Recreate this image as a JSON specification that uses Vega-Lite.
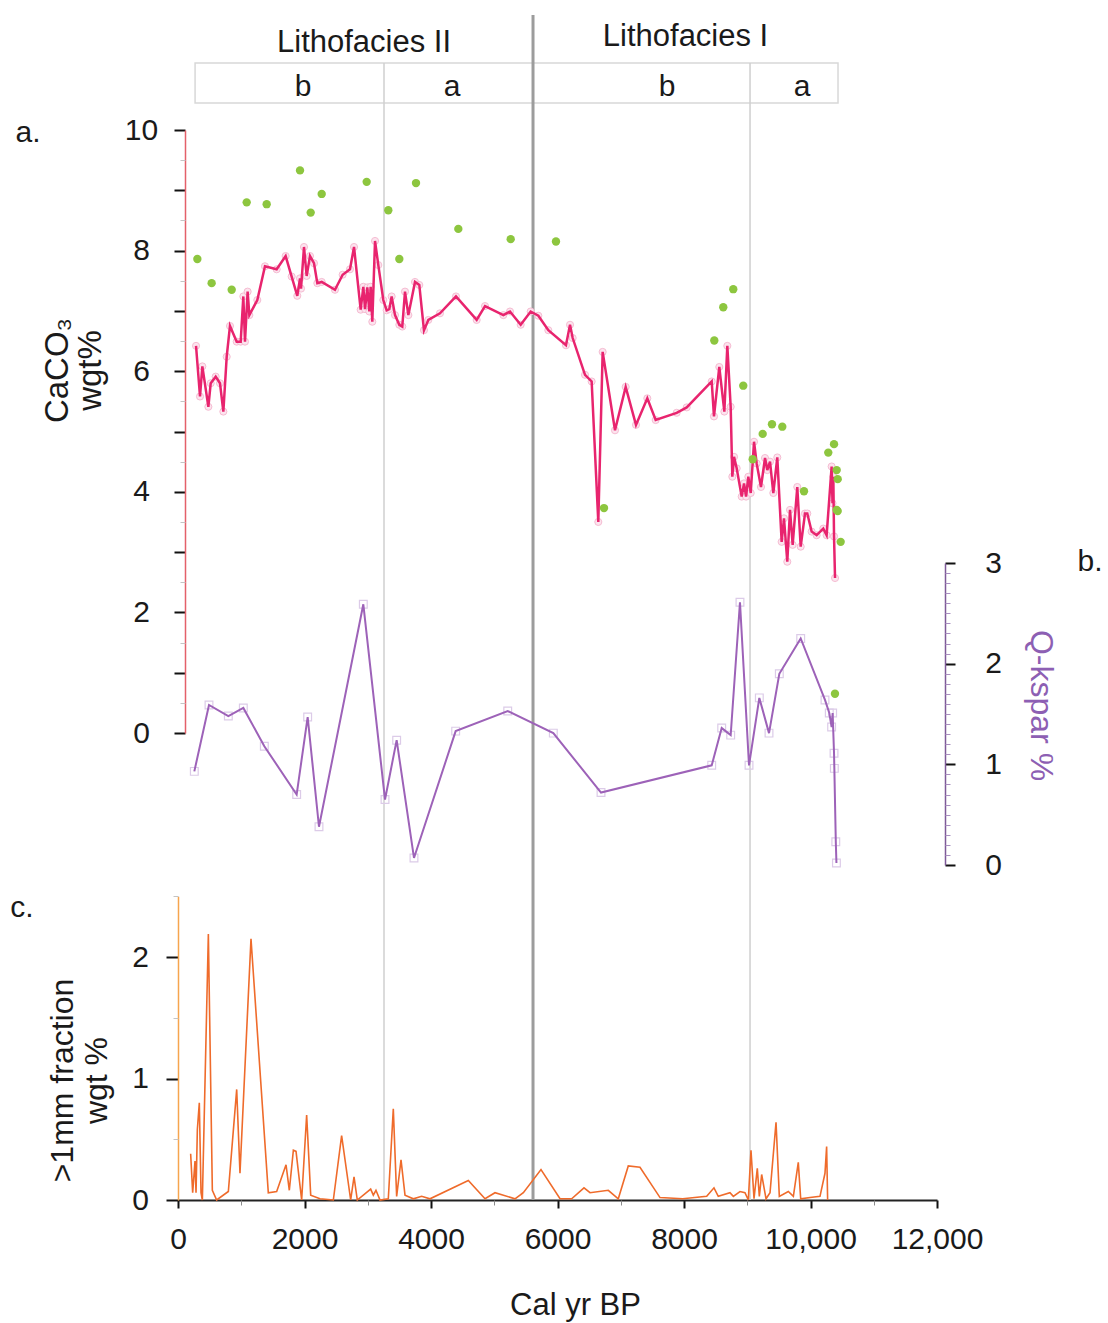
{
  "$schema": "https://vega.github.io/schema/vega-lite/v6.json",
  "width": 759,
  "height": 1185,
  "autosize": {"type": "none"},
  "padding": {"left": 178, "top": 15, "right": 171, "bottom": 123},
  "config": {
    "view": {"stroke": null},
    "font": "Liberation Sans",
    "axis": {"grid": false, "labelFont": "Liberation Sans", "titleFont": "Liberation Sans", "labelColor": "#1a1a1a", "titleColor": "#1a1a1a", "titleFontWeight": "normal", "labelOverlap": false, "labelFlush": false},
    "text": {"font": "Liberation Sans", "color": "#1a1a1a"}
  },
  "datasets": {
    "caco3": [
      {"yr":285,"pct":6.42},{"yr":348,"pct":5.58},{"yr":385,"pct":6.08},{"yr":480,"pct":5.41},{"yr":517,"pct":5.80},{"yr":596,"pct":5.91},{"yr":664,"pct":5.80},{"yr":717,"pct":5.33},{"yr":770,"pct":6.24},{"yr":822,"pct":6.75},{"yr":928,"pct":6.49},{"yr":991,"pct":6.49},{"yr":1033,"pct":7.24},{"yr":1059,"pct":6.49},{"yr":1101,"pct":7.32},{"yr":1128,"pct":6.93},{"yr":1254,"pct":7.18},{"yr":1375,"pct":7.74},{"yr":1560,"pct":7.69},{"yr":1702,"pct":7.91},{"yr":1797,"pct":7.57},{"yr":1886,"pct":7.25},{"yr":1929,"pct":7.54},{"yr":1945,"pct":7.37},{"yr":1992,"pct":8.06},{"yr":2034,"pct":7.58},{"yr":2087,"pct":7.91},{"yr":2150,"pct":7.79},{"yr":2203,"pct":7.46},{"yr":2272,"pct":7.48},{"yr":2482,"pct":7.35},{"yr":2603,"pct":7.60},{"yr":2719,"pct":7.69},{"yr":2783,"pct":8.06},{"yr":2888,"pct":7.02},{"yr":2930,"pct":7.40},{"yr":2957,"pct":7.03},{"yr":2993,"pct":7.39},{"yr":3025,"pct":6.99},{"yr":3046,"pct":7.40},{"yr":3072,"pct":6.82},{"yr":3115,"pct":8.16},{"yr":3167,"pct":7.76},{"yr":3246,"pct":7.18},{"yr":3299,"pct":7.01},{"yr":3341,"pct":7.03},{"yr":3378,"pct":7.24},{"yr":3431,"pct":6.93},{"yr":3499,"pct":6.77},{"yr":3546,"pct":6.74},{"yr":3589,"pct":7.32},{"yr":3642,"pct":6.93},{"yr":3747,"pct":7.48},{"yr":3815,"pct":7.43},{"yr":3889,"pct":6.68},{"yr":3958,"pct":6.85},{"yr":4142,"pct":6.96},{"yr":4395,"pct":7.24},{"yr":4722,"pct":6.85},{"yr":4854,"pct":7.08},{"yr":5144,"pct":6.93},{"yr":5249,"pct":6.99},{"yr":5418,"pct":6.77},{"yr":5576,"pct":6.99},{"yr":5697,"pct":6.92},{"yr":5855,"pct":6.68},{"yr":6134,"pct":6.43},{"yr":6198,"pct":6.77},{"yr":6240,"pct":6.55},{"yr":6435,"pct":5.94},{"yr":6540,"pct":5.83},{"yr":6645,"pct":3.50},{"yr":6714,"pct":6.32},{"yr":6909,"pct":5.02},{"yr":7078,"pct":5.74},{"yr":7241,"pct":5.11},{"yr":7420,"pct":5.55},{"yr":7552,"pct":5.19},{"yr":7884,"pct":5.31},{"yr":8043,"pct":5.40},{"yr":8438,"pct":5.83},{"yr":8474,"pct":5.25},{"yr":8558,"pct":6.07},{"yr":8638,"pct":5.33},{"yr":8685,"pct":6.42},{"yr":8738,"pct":5.41},{"yr":8764,"pct":4.25},{"yr":8791,"pct":4.58},{"yr":8833,"pct":4.39},{"yr":8912,"pct":3.92},{"yr":8949,"pct":4.14},{"yr":8981,"pct":3.92},{"yr":9017,"pct":4.25},{"yr":9055,"pct":3.98},{"yr":9107,"pct":4.83},{"yr":9149,"pct":4.47},{"yr":9217,"pct":4.08},{"yr":9281,"pct":4.56},{"yr":9317,"pct":4.36},{"yr":9360,"pct":4.50},{"yr":9412,"pct":3.98},{"yr":9475,"pct":4.57},{"yr":9544,"pct":3.17},{"yr":9581,"pct":3.56},{"yr":9633,"pct":2.84},{"yr":9676,"pct":3.70},{"yr":9718,"pct":3.12},{"yr":9791,"pct":4.08},{"yr":9845,"pct":3.09},{"yr":9913,"pct":3.64},{"yr":9949,"pct":3.64},{"yr":10018,"pct":3.34},{"yr":10097,"pct":3.28},{"yr":10202,"pct":3.39},{"yr":10255,"pct":3.28},{"yr":10334,"pct":4.42},{"yr":10348,"pct":3.81},{"yr":10361,"pct":4.25},{"yr":10372,"pct":3.26},{"yr":10388,"pct":2.57}
    ],
    "caco3_alt": [
      {"yr":306,"pct":7.86},{"yr":532,"pct":7.46},{"yr":849,"pct":7.35},{"yr":1086,"pct":8.80},{"yr":1402,"pct":8.77},{"yr":1929,"pct":9.33},{"yr":2098,"pct":8.63},{"yr":2272,"pct":8.94},{"yr":2983,"pct":9.14},{"yr":3325,"pct":8.67},{"yr":3499,"pct":7.86},{"yr":3763,"pct":9.12},{"yr":4432,"pct":8.36},{"yr":5260,"pct":8.19},{"yr":5976,"pct":8.15},{"yr":6735,"pct":3.73},{"yr":8479,"pct":6.51},{"yr":8621,"pct":7.06},{"yr":8779,"pct":7.36},{"yr":8937,"pct":5.76},{"yr":9086,"pct":4.54},{"yr":9244,"pct":4.96},{"yr":9391,"pct":5.12},{"yr":9554,"pct":5.08},{"yr":9897,"pct":4.01},{"yr":10281,"pct":4.65},{"yr":10372,"pct":4.79},{"yr":10414,"pct":4.36},{"yr":10430,"pct":4.21},{"yr":10414,"pct":3.70},{"yr":10430,"pct":3.68},{"yr":10477,"pct":3.17},{"yr":10387,"pct":0.65}
    ],
    "qkspar": [
      {"yr":258,"ratio":0.93},{"yr":490,"ratio":1.59},{"yr":796,"ratio":1.48},{"yr":1033,"ratio":1.56},{"yr":1365,"ratio":1.18},{"yr":1876,"ratio":0.70},{"yr":2050,"ratio":1.47},{"yr":2229,"ratio":0.38},{"yr":2930,"ratio":2.59},{"yr":3273,"ratio":0.65},{"yr":3457,"ratio":1.24},{"yr":3731,"ratio":0.07},{"yr":4390,"ratio":1.33},{"yr":5213,"ratio":1.53},{"yr":5934,"ratio":1.31},{"yr":6688,"ratio":0.72},{"yr":8438,"ratio":0.99},{"yr":8596,"ratio":1.36},{"yr":8738,"ratio":1.29},{"yr":8885,"ratio":2.61},{"yr":9028,"ratio":0.99},{"yr":9191,"ratio":1.66},{"yr":9344,"ratio":1.31},{"yr":9507,"ratio":1.90},{"yr":9845,"ratio":2.25},{"yr":10229,"ratio":1.64},{"yr":10297,"ratio":1.51},{"yr":10334,"ratio":1.37},{"yr":10350,"ratio":1.51},{"yr":10372,"ratio":1.11},{"yr":10377,"ratio":0.96},{"yr":10400,"ratio":0.23},{"yr":10410,"ratio":0.02}
    ],
    "coarse": [
      {"yr":200,"wt":0.38},{"yr":232,"wt":0.06},{"yr":269,"wt":0.32},{"yr":285,"wt":0.06},{"yr":306,"wt":0.58},{"yr":337,"wt":0.80},{"yr":364,"wt":0.06},{"yr":385,"wt":0.0},{"yr":480,"wt":2.19},{"yr":543,"wt":0.08},{"yr":611,"wt":0.0},{"yr":796,"wt":0.07},{"yr":928,"wt":0.91},{"yr":980,"wt":0.22},{"yr":1154,"wt":2.15},{"yr":1428,"wt":0.06},{"yr":1560,"wt":0.07},{"yr":1708,"wt":0.29},{"yr":1760,"wt":0.08},{"yr":1824,"wt":0.41},{"yr":1866,"wt":0.40},{"yr":1955,"wt":0.0},{"yr":2034,"wt":0.70},{"yr":2098,"wt":0.04},{"yr":2245,"wt":0.01},{"yr":2456,"wt":0.0},{"yr":2587,"wt":0.53},{"yr":2730,"wt":0.0},{"yr":2783,"wt":0.19},{"yr":2835,"wt":0.0},{"yr":3046,"wt":0.09},{"yr":3088,"wt":0.04},{"yr":3130,"wt":0.08},{"yr":3194,"wt":0.0},{"yr":3325,"wt":0.01},{"yr":3404,"wt":0.75},{"yr":3457,"wt":0.03},{"yr":3526,"wt":0.33},{"yr":3589,"wt":0.04},{"yr":3721,"wt":0.01},{"yr":3852,"wt":0.03},{"yr":3984,"wt":0.01},{"yr":4590,"wt":0.16},{"yr":4854,"wt":0.01},{"yr":5012,"wt":0.06},{"yr":5328,"wt":0.01},{"yr":5460,"wt":0.06},{"yr":5739,"wt":0.25},{"yr":6040,"wt":0.01},{"yr":6224,"wt":0.01},{"yr":6419,"wt":0.10},{"yr":6514,"wt":0.06},{"yr":6803,"wt":0.08},{"yr":6961,"wt":0.01},{"yr":7119,"wt":0.28},{"yr":7304,"wt":0.27},{"yr":7621,"wt":0.02},{"yr":7979,"wt":0.01},{"yr":8359,"wt":0.03},{"yr":8474,"wt":0.10},{"yr":8542,"wt":0.03},{"yr":8727,"wt":0.06},{"yr":8780,"wt":0.03},{"yr":8885,"wt":0.07},{"yr":8964,"wt":0.06},{"yr":9017,"wt":0.0},{"yr":9059,"wt":0.41},{"yr":9107,"wt":0.01},{"yr":9159,"wt":0.26},{"yr":9191,"wt":0.03},{"yr":9228,"wt":0.21},{"yr":9297,"wt":0.01},{"yr":9360,"wt":0.06},{"yr":9455,"wt":0.64},{"yr":9507,"wt":0.03},{"yr":9649,"wt":0.07},{"yr":9729,"wt":0.03},{"yr":9807,"wt":0.31},{"yr":9845,"wt":0.01},{"yr":9992,"wt":0.02},{"yr":10150,"wt":0.03},{"yr":10229,"wt":0.22},{"yr":10255,"wt":0.44},{"yr":10271,"wt":0.0}
    ],
    "units": [
      {"yr":2941,"lv":1.5,"t":"Lithofacies II"},
      {"yr":8024,"lv":1.64,"t":"Lithofacies I"}
    ],
    "subunits": [
      {"yr":1976,"lv":0.4,"t":"b"},
      {"yr":4332,"lv":0.4,"t":"a"},
      {"yr":7731,"lv":0.4,"t":"b"},
      {"yr":9866,"lv":0.4,"t":"a"}
    ],
    "box": [{"yr0":270,"yr1":10435,"lv0":0,"lv1":1}],
    "subbounds": [{"yr":3257,"lv":1},{"yr":9044,"lv":1}],
    "unitbound": [{"yr":5613}]
  },
  "layer": [
    {
      "layer": [
        {
          "data": {"name": "box"},
          "mark": {"type": "rect", "fillOpacity": 0, "stroke": "#d8d8d8", "strokeWidth": 1.5},
          "encoding": {
            "x": {"field": "yr0", "type": "quantitative", "scale": {"domain": [0, 12000], "nice": false, "zero": false}, "axis": null},
            "x2": {"field": "yr1"},
            "y": {"field": "lv0", "type": "quantitative", "scale": {"domain": [0, 2.2], "range": [88, 0], "nice": false, "zero": false}, "axis": null},
            "y2": {"field": "lv1"}
          }
        },
        {
          "data": {"name": "subbounds"},
          "mark": {"type": "rule", "color": "#cfcfcf", "strokeWidth": 1.5},
          "encoding": {
            "x": {"field": "yr", "type": "quantitative", "axis": null},
            "y": {"field": "lv", "type": "quantitative", "axis": null},
            "y2": {"value": "height"}
          }
        },
        {
          "data": {"name": "unitbound"},
          "mark": {"type": "rule", "color": "#9c9c9c", "strokeWidth": 3},
          "encoding": {
            "x": {"field": "yr", "type": "quantitative", "axis": null}
          }
        },
        {
          "data": {"name": "units"},
          "mark": {"type": "text", "fontSize": 31, "align": "center", "baseline": "middle"},
          "encoding": {
            "x": {"field": "yr", "type": "quantitative", "axis": null},
            "y": {"field": "lv", "type": "quantitative", "axis": null},
            "text": {"field": "t"}
          }
        },
        {
          "data": {"name": "subunits"},
          "mark": {"type": "text", "fontSize": 30, "align": "center", "baseline": "middle"},
          "encoding": {
            "x": {"field": "yr", "type": "quantitative", "axis": null},
            "y": {"field": "lv", "type": "quantitative", "axis": null},
            "text": {"field": "t"}
          }
        }
      ]
    },
    {
      "layer": [
        {
          "data": {"name": "caco3"},
          "mark": {"type": "point", "filled": true, "fill": "#fce4ee", "stroke": "#f5bcd2", "strokeWidth": 1, "size": 50, "opacity": 1},
          "encoding": {
            "x": {"field": "yr", "type": "quantitative", "scale": {"domain": [0, 12000], "nice": false, "zero": false}, "axis": null},
            "y": {
              "field": "pct", "type": "quantitative",
              "scale": {"domain": [0, 10], "range": [718, 115], "nice": false, "zero": false},
              "axis": {
                "orient": "left", "offset": -7,
                "values": [0, 1, 2, 3, 4, 5, 6, 7, 8, 9, 10],
                "format": "d",
                "labelExpr": "datum.value % 2 === 0 ? datum.label : ''",
                "domainColor": "#e4606a", "domainWidth": 1.5,
                "tickColor": "#111111", "tickWidth": 2, "tickSize": 11,
                "labelAlign": "center", "labelBaseline": "middle", "labelPadding": 33, "labelFontSize": 30,
                "title": ["CaCO₃", "wgt%"], "titleFontSize": 33, "titleLineHeight": 33,
                "titleAngle": -90, "titleBaseline": "top", "titleAlign": "center",
                "titleX": -144, "titleY": 355
              }
            }
          }
        },
        {
          "data": {"name": "caco3"},
          "mark": {"type": "line", "color": "#e8246e", "strokeWidth": 2.5},
          "encoding": {
            "x": {"field": "yr", "type": "quantitative", "axis": null},
            "y": {"field": "pct", "type": "quantitative"}
          }
        },
        {
          "data": {"name": "caco3_alt"},
          "mark": {"type": "circle", "color": "#8dc63f", "size": 70, "opacity": 1},
          "encoding": {
            "x": {"field": "yr", "type": "quantitative", "axis": null},
            "y": {"field": "pct", "type": "quantitative"}
          }
        },
        {
          "data": {"values": [{"yr": -2372, "pct": 9.95, "t": "a."}]},
          "mark": {"type": "text", "fontSize": 30, "align": "center", "baseline": "middle"},
          "encoding": {
            "x": {"field": "yr", "type": "quantitative", "axis": null},
            "y": {"field": "pct", "type": "quantitative"},
            "text": {"field": "t"}
          }
        }
      ]
    },
    {
      "data": {"values": [{"yr": 0, "pct": 5}]},
      "mark": {"type": "point", "opacity": 0},
      "encoding": {
        "x": {"field": "yr", "type": "quantitative", "scale": {"domain": [0, 12000], "nice": false, "zero": false}, "axis": null},
        "y": {
          "field": "pct", "type": "quantitative",
          "scale": {"domain": [0, 10], "range": [718, 115], "nice": false, "zero": false},
          "axis": {"orient": "left", "offset": -7, "values": [0.5, 1.5, 2.5, 3.5, 4.5, 5.5, 6.5, 7.5, 8.5, 9.5], "labels": false, "domain": false, "tickSize": 5, "tickColor": "#c4c4c4", "tickWidth": 1, "title": null}
        }
      }
    },
    {
      "layer": [
        {
          "data": {"name": "qkspar"},
          "mark": {"type": "square", "filled": false, "stroke": "#dccbe8", "strokeWidth": 1.2, "size": 60, "opacity": 1},
          "encoding": {
            "x": {"field": "yr", "type": "quantitative", "scale": {"domain": [0, 12000], "nice": false, "zero": false}, "axis": null},
            "y": {
              "field": "ratio", "type": "quantitative",
              "scale": {"domain": [0, 3], "range": [850, 548], "nice": false, "zero": false},
              "axis": {
                "orient": "right", "offset": 8,
                "values": [0, 1, 2, 3],
                "format": "d",
                "domainColor": "#7e5a98", "domainWidth": 1.5,
                "tickColor": "#111111", "tickWidth": 2, "tickSize": 10,
                "labelAlign": "center", "labelBaseline": "middle", "labelPadding": 38, "labelFontSize": 30,
                "title": "Q-kspar %", "titleColor": "#8d5fb3", "titleFontSize": 32,
                "titleAngle": 90, "titleBaseline": "middle", "titleAlign": "center",
                "titleX": 95, "titleY": 690
              }
            }
          }
        },
        {
          "data": {"name": "qkspar"},
          "mark": {"type": "line", "color": "#9d62b8", "strokeWidth": 2},
          "encoding": {
            "x": {"field": "yr", "type": "quantitative", "axis": null},
            "y": {"field": "ratio", "type": "quantitative"}
          }
        },
        {
          "data": {"values": [{"yr": 14419, "ratio": 3.01, "t": "b."}]},
          "mark": {"type": "text", "fontSize": 30, "align": "center", "baseline": "middle"},
          "encoding": {
            "x": {"field": "yr", "type": "quantitative", "axis": null},
            "y": {"field": "ratio", "type": "quantitative"},
            "text": {"field": "t"}
          }
        }
      ]
    },
    {
      "data": {"values": [{"yr": 0, "ratio": 1}]},
      "mark": {"type": "point", "opacity": 0},
      "encoding": {
        "x": {"field": "yr", "type": "quantitative", "scale": {"domain": [0, 12000], "nice": false, "zero": false}, "axis": null},
        "y": {
          "field": "ratio", "type": "quantitative",
          "scale": {"domain": [0, 3], "range": [850, 548], "nice": false, "zero": false},
          "axis": {"orient": "right", "offset": 8, "values": [0.1, 0.2, 0.3, 0.4, 0.5, 0.6, 0.7, 0.8, 0.9, 1.1, 1.2, 1.3, 1.4, 1.5, 1.6, 1.7, 1.8, 1.9, 2.1, 2.2, 2.3, 2.4, 2.5, 2.6, 2.7, 2.8, 2.9], "labels": false, "domain": false, "tickSize": 5, "tickColor": "#a98fc0", "tickWidth": 1, "title": null}
        }
      }
    },
    {
      "layer": [
        {
          "data": {"name": "coarse"},
          "mark": {"type": "line", "color": "#ef6b2b", "strokeWidth": 1.6},
          "encoding": {
            "x": {
              "field": "yr", "type": "quantitative",
              "scale": {"domain": [0, 12000], "nice": false, "zero": false},
              "axis": {
                "orient": "bottom",
                "values": [0, 2000, 4000, 6000, 8000, 10000, 12000],
                "labelExpr": "datum.value >= 10000 ? format(datum.value, ',') : format(datum.value, 'd')",
                "domainColor": "#222222", "domainWidth": 2,
                "tickColor": "#111111", "tickWidth": 2, "tickSize": 8,
                "labelFontSize": 30, "labelPadding": 16,
                "title": "Cal yr BP", "titleFontSize": 31,
                "titleBaseline": "middle", "titleAlign": "center", "titleX": 397, "titleY": 105
              }
            },
            "y": {
              "field": "wt", "type": "quantitative",
              "scale": {"domain": [0, 2.5], "range": [1185, 881.25], "nice": false, "zero": false},
              "axis": {
                "orient": "left", "offset": 0,
                "values": [0, 1, 2],
                "format": "d",
                "domainColor": "#f6a54e", "domainWidth": 1.5,
                "tickColor": "#111111", "tickWidth": 2, "tickSize": 12,
                "labelAlign": "center", "labelBaseline": "middle", "labelPadding": 26, "labelFontSize": 30,
                "title": [">1mm fraction", "wgt %"], "titleFontSize": 32, "titleLineHeight": 34,
                "titleAngle": -90, "titleBaseline": "top", "titleAlign": "center",
                "titleX": -131, "titleY": 1065
              }
            }
          }
        },
        {
          "data": {"values": [{"yr": -2466, "wt": 2.4, "t": "c."}]},
          "mark": {"type": "text", "fontSize": 30, "align": "center", "baseline": "middle"},
          "encoding": {
            "x": {"field": "yr", "type": "quantitative"},
            "y": {"field": "wt", "type": "quantitative"},
            "text": {"field": "t"}
          }
        }
      ]
    },
    {
      "data": {"values": [{"yr": 0, "wt": 1}]},
      "mark": {"type": "point", "opacity": 0},
      "encoding": {
        "x": {
          "field": "yr", "type": "quantitative",
          "scale": {"domain": [0, 12000], "nice": false, "zero": false},
          "axis": {"orient": "bottom", "values": [1000, 3000, 5000, 7000, 9000, 11000], "labels": false, "domain": false, "tickSize": 5, "tickColor": "#8a8a8a", "tickWidth": 1, "title": null}
        },
        "y": {
          "field": "wt", "type": "quantitative",
          "scale": {"domain": [0, 2.5], "range": [1185, 881.25], "nice": false, "zero": false},
          "axis": {"orient": "left", "offset": 0, "values": [0.5, 1.5, 2.5], "labels": false, "domain": false, "tickSize": 5, "tickColor": "#c4c4c4", "tickWidth": 1, "title": null}
        }
      }
    }
  ],
  "resolve": {
    "scale": {"x": "independent", "y": "independent"},
    "axis": {"x": "independent", "y": "independent"}
  }
}
